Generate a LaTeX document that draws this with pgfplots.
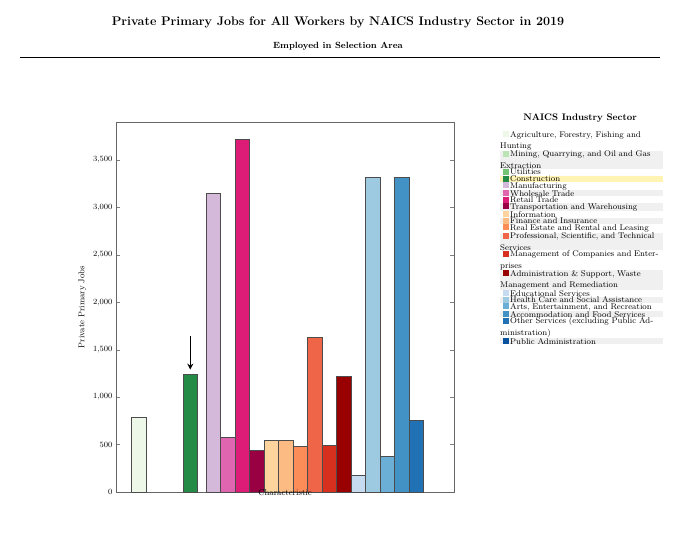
\documentclass[border=0pt]{standalone}
\usepackage{pgfplots}
\pgfplotsset{compat=1.18}
\usetikzlibrary{arrows.meta}
\definecolor{g1}{HTML}{EDF8E9}\definecolor{g2}{HTML}{BAE4B3}\definecolor{g3}{HTML}{74C476}\definecolor{g4}{HTML}{238B45}
\definecolor{p1}{HTML}{D4B9DA}\definecolor{p2}{HTML}{DF65B0}\definecolor{p3}{HTML}{DD1C77}\definecolor{p4}{HTML}{980043}
\definecolor{o1}{HTML}{FDD49E}\definecolor{o2}{HTML}{FDBB84}\definecolor{o3}{HTML}{FC8D59}\definecolor{o4}{HTML}{EF6548}\definecolor{o5}{HTML}{D7301F}\definecolor{o6}{HTML}{990000}
\definecolor{b1}{HTML}{C6DBEF}\definecolor{b2}{HTML}{9ECAE1}\definecolor{b3}{HTML}{6BAED6}\definecolor{b4}{HTML}{4292C6}\definecolor{b5}{HTML}{2171B5}\definecolor{b6}{HTML}{08519C}
\definecolor{bgg}{HTML}{F0F0F0}\definecolor{bgy}{HTML}{FFF4B3}
\begin{document}
\begin{tikzpicture}[x=1pt,y=1pt]
\path (0,0) rectangle (676,535);
\node[font=\fontsize{12.5}{14}\selectfont\bfseries] at (338,513) {Private Primary Jobs for All Workers by NAICS Industry Sector in 2019};
\node[font=\fontsize{9}{11}\selectfont\bfseries] at (338,489) {Employed in Selection Area};
\draw[line width=0.8pt] (20,478) -- (660,478);
\begin{axis}[at={(116pt,43pt)},anchor=south west,scale only axis,width=338pt,height=370pt,
  xmin=116,xmax=454,ymin=0,ymax=3900,xtick=\empty,
  ytick={0,500,...,3500},tick label style={font=\fontsize{8}{9}\selectfont},
  ylabel={Private Primary Jobs},xlabel={Characteristic},
  label style={font=\fontsize{8.5}{10}\selectfont},
  xlabel style={yshift=10pt},
  axis line style={black!60},
  ybar,bar width=14.5,bar shift=0pt,
  every axis plot/.append style={draw=black!70,line width=0.6pt}]
\addplot[fill=g1] coordinates {(138.7,787)};
\addplot[fill=g4] coordinates {(190.3,1236)};
\addplot[fill=p1] coordinates {(213.3,3148)};
\addplot[fill=p2] coordinates {(228,580)};
\addplot[fill=p3] coordinates {(242.5,3717)};
\addplot[fill=p4] coordinates {(256.9,442)};
\addplot[fill=o1] coordinates {(271.4,548)};
\addplot[fill=o2] coordinates {(285.9,548)};
\addplot[fill=o3] coordinates {(300.4,481)};
\addplot[fill=o4] coordinates {(314.9,1633)};
\addplot[fill=o5] coordinates {(329.4,495)};
\addplot[fill=o6] coordinates {(343.9,1215)};
\addplot[fill=b1] coordinates {(358.4,179)};
\addplot[fill=b2] coordinates {(372.9,3316)};
\addplot[fill=b3] coordinates {(387.4,372)};
\addplot[fill=b4] coordinates {(401.9,3312)};
\addplot[fill=b5] coordinates {(416.4,751)};
\draw[-{Stealth[length=6pt,width=6pt]},line width=1.6pt] (axis cs:190.3,1640) -- (axis cs:190.3,1290);
\end{axis}
\node[font=\fontsize{9.5}{11}\selectfont\bfseries] at (580,417) {NAICS Industry Sector};
\newcommand{\E}[5]{\node[anchor=north west,inner sep=0pt,text width=163pt,fill=#2,font=\fontsize{8.3}{11.6}\selectfont,align=left] (#4) at (#3) {\hangindent=10pt\hangafter=1\noindent\hspace{3pt}\textcolor{#1}{\rule{6pt}{6pt}}\hspace{1pt}#5};}
\E{g1}{white}{500,404}{e1}{Agriculture, Forestry, Fishing and Hunting}
\E{g2}{bgg}{e1.south west}{e2}{Mining, Quarrying, and Oil and Gas Extraction}
\E{g3}{white}{e2.south west}{e3}{Utilities}
\E{g4}{bgy}{e3.south west}{e4}{Construction}
\E{p1}{white}{e4.south west}{e5}{Manufacturing}
\E{p2}{bgg}{e5.south west}{e6}{Wholesale Trade}
\E{p3}{white}{e6.south west}{e7}{Retail Trade}
\E{p4}{bgg}{e7.south west}{e8}{Transportation and Warehousing}
\E{o1}{white}{e8.south west}{e9}{Information}
\E{o2}{bgg}{e9.south west}{e10}{Finance and Insurance}
\E{o3}{white}{e10.south west}{e11}{Real Estate and Rental and Leasing}
\E{o4}{bgg}{e11.south west}{e12}{Professional, Scientific, and Technical Services}
\E{o5}{white}{e12.south west}{e13}{Management of Companies and Enterprises}
\E{o6}{bgg}{e13.south west}{e14}{Administration \& Support, Waste Management and Remediation}
\E{b1}{white}{e14.south west}{e15}{Educational Services}
\E{b2}{bgg}{e15.south west}{e16}{Health Care and Social Assistance}
\E{b3}{white}{e16.south west}{e17}{Arts, Entertainment, and Recreation}
\E{b4}{bgg}{e17.south west}{e18}{Accommodation and Food Services}
\E{b5}{white}{e18.south west}{e19}{Other Services (excluding Public Administration)}
\E{b6}{bgg}{e19.south west}{e20}{Public Administration}
\end{tikzpicture}
\end{document}
